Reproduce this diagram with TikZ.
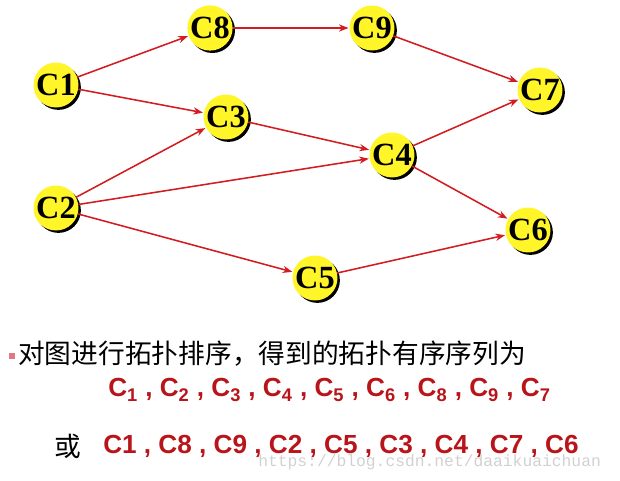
\documentclass[tikz,border=0pt]{standalone}
\usepackage{fontspec}
\setmainfont{Liberation Serif}
\setsansfont{Liberation Sans}
\setmonofont{Liberation Mono}
\newfontfamily\cjkfont{Noto Sans CJK SC}
\usetikzlibrary{arrows.meta,shadows}
\definecolor{edgered}{RGB}{210,28,32}
\definecolor{textred}{RGB}{185,20,25}
\definecolor{nodeyellow}{RGB}{255,245,40}
\definecolor{bulletpink}{RGB}{225,120,130}
\tikzset{
  vertex/.style={circle, fill=nodeyellow, draw=none, minimum size=0.92cm, inner sep=0pt,
                 font=\fontsize{23}{23}\selectfont\bfseries,
                 drop shadow={shadow xshift=0.06cm, shadow yshift=-0.06cm, fill=black, opacity=1}},
  arrow/.style={-{Stealth[length=2.4mm, width=1.8mm]}, line width=1.1pt, edgered, shorten >=0.5pt},
  seqtext/.style={anchor=west, font=\sffamily\bfseries\fontsize{18.6}{18.6}\selectfont, textred, inner sep=0pt},
}
\begin{document}
\begin{tikzpicture}[x=0.025cm, y=-0.025cm]
\useasboundingbox (0,0) rectangle (620,481);
% vertices
\node[vertex] (c1) at (56,85) {C1};
\node[vertex] (c8) at (210,28) {C8};
\node[vertex] (c9) at (372,28) {C9};
\node[vertex] (c7) at (540,90) {C7};
\node[vertex] (c3) at (226,117) {C3};
\node[vertex] (c4) at (392,155) {C4};
\node[vertex] (c2) at (56,208) {C2};
\node[vertex] (c6) at (528,230) {C6};
\node[vertex] (c5) at (315,278) {C5};
% edges
\foreach \a/\b in {c1/c8, c8/c9, c9/c7, c1/c3, c3/c4, c4/c7, c4/c6, c2/c3, c2/c4, c2/c5, c5/c6}
  \draw[arrow] (\a) -- (\b);
% text below
\node[fill=bulletpink, minimum size=4.5pt, inner sep=0pt] (bullet) at (12,356) {};
\node[anchor=west, inner sep=0pt, font=\cjkfont\fontsize{19}{19}\selectfont] (title) at (18,354) {对图进行拓扑排序，得到的拓扑有序序列为};
\node[seqtext] (seq1) at (108,390) {C\textsubscript{1} , C\textsubscript{2} , C\textsubscript{3} , C\textsubscript{4} , C\textsubscript{5} , C\textsubscript{6} , C\textsubscript{8} , C\textsubscript{9} , C\textsubscript{7}};
\node[anchor=west, inner sep=0pt, font=\cjkfont\fontsize{19}{19}\selectfont] (huo) at (54,446) {或};
\node[seqtext] (seq2) at (103,446) {C1 , C8 , C9 , C2 , C5 , C3 , C4 , C7 , C6};
\node[anchor=west, inner sep=0pt, font=\ttfamily\fontsize{11.6}{11.6}\selectfont, black!18] (mark) at (258,462) {https://blog.csdn.net/daaikuaichuan};
\end{tikzpicture}
\end{document}
